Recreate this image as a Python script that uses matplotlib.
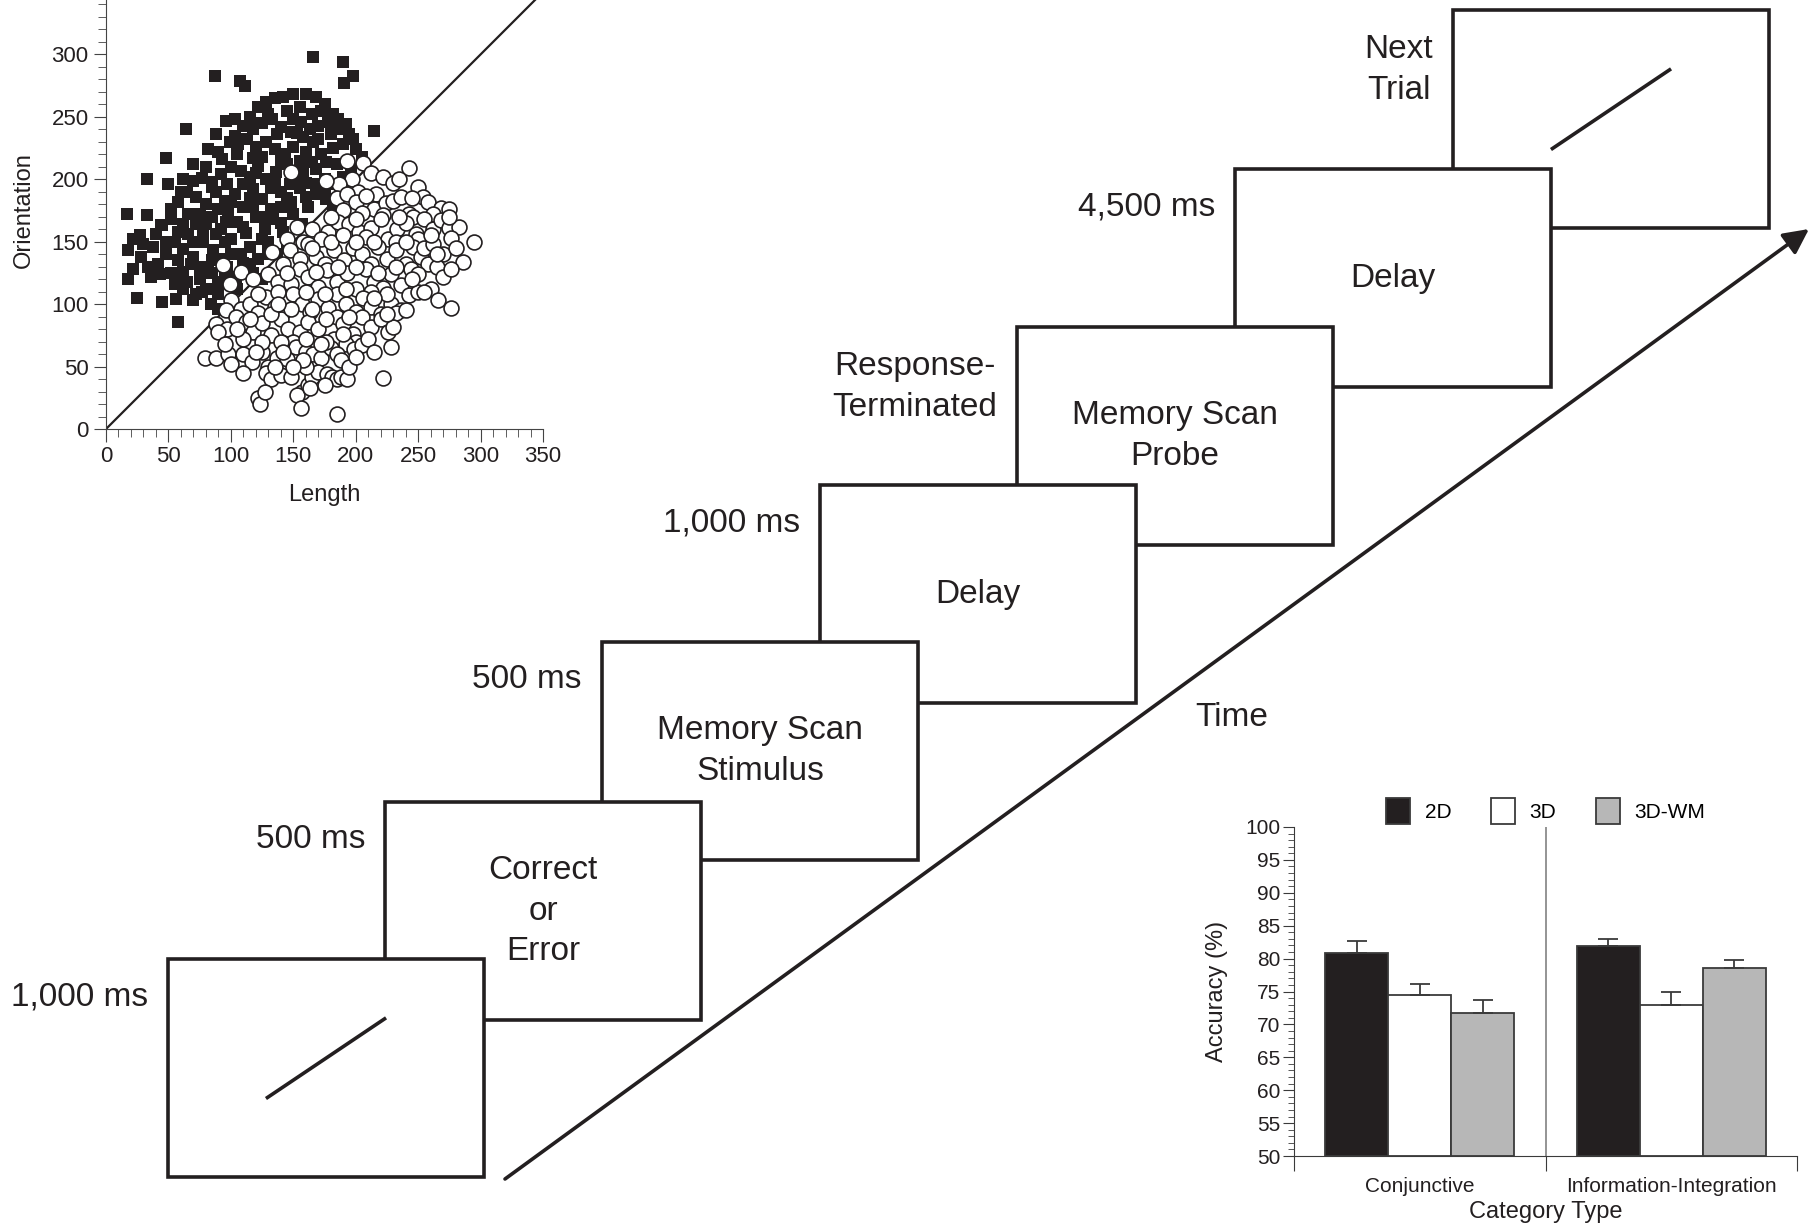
import numpy as np
import matplotlib
matplotlib.use("Agg")
import matplotlib.pyplot as plt
from matplotlib.patches import Rectangle, Patch
from matplotlib.ticker import MultipleLocator, FixedLocator

plt.rcParams['font.family'] = ['Liberation Sans', 'DejaVu Sans']
INK = '#231f20'

# ---- trial procedure (diagram) ----
durations = ["1,000 ms", "500 ms", "500 ms", "1,000 ms",
             "Response-\nTerminated", "4,500 ms", "Next\nTrial"]
stages = ["", "Correct\nor\nError", "Memory Scan\nStimulus", "Delay",
          "Memory Scan\nProbe", "Delay", ""]
has_stimulus = [True, False, False, False, False, False, True]
time_label = "Time"

# ---- inset: category structure (length, orientation) ----
cat_a = np.array([
    (166, 298), (190, 294), (198, 283), (191, 277), (87, 283), (107, 279), (111, 275), (215, 239), (64, 240),
    (122, 258), (128, 262), (135, 265), (142, 266), (150, 268), (160, 268), (168, 266), (175, 260), (182, 252),
    (130, 252), (145, 255), (155, 258), (172, 255),
    (96, 247), (103, 248), (110, 243), (118, 240), (125, 245), (133, 248), (140, 242), (148, 238), (156, 246),
    (163, 240), (170, 243), (178, 246), (186, 248), (192, 244), (137, 236), (158, 234), (180, 236), (198, 232),
    (82, 224), (90, 222), (99, 230), (106, 228), (113, 232), (120, 226), (128, 230), (135, 224), (143, 220),
    (150, 226), (160, 222), (166, 230), (172, 220), (182, 225), (190, 228), (200, 224), (205, 218), (118, 217),
    (140, 215), (176, 214), (93, 216), (48, 217),
    (62, 200), (70, 199), (77, 201), (85, 198), (92, 204), (100, 210), (108, 207), (115, 202), (122, 211),
    (128, 200), (136, 206), (145, 212), (152, 203), (160, 197), (168, 208), (175, 200), (183, 196), (190, 202),
    (196, 208), (50, 196), (33, 200),
    (52, 176), (58, 182), (65, 190), (72, 186), (80, 180), (88, 190), (95, 183), (103, 188), (110, 178),
    (118, 192), (125, 184), (132, 176), (140, 190), (148, 182), (155, 193), (162, 178), (168, 188), (176, 184),
    (182, 178), (85, 194),
    (45, 163), (52, 168), (58, 158), (66, 172), (72, 164), (78, 156), (85, 170), (92, 160), (98, 174),
    (105, 166), (112, 157), (120, 170), (127, 160), (134, 168), (142, 158), (150, 172), (157, 164), (17, 172),
    (33, 171), (44, 163),
    (22, 152), (30, 148), (38, 146), (48, 140), (55, 150), (62, 144), (70, 138), (78, 150), (86, 143),
    (93, 136), (100, 152), (108, 140), (115, 146), (122, 136), (130, 150), (137, 140), (145, 148), (18, 143),
    (27, 155),
    (18, 120), (22, 128), (34, 130), (36, 122), (43, 124), (55, 116), (62, 126), (68, 132), (75, 120),
    (82, 128), (90, 118), (97, 130), (104, 122), (110, 133), (118, 125), (125, 120), (142, 118),
    (25, 105), (45, 102), (62, 112), (70, 103), (77, 110), (84, 100), (90, 108), (90, 96), (58, 86),
    (88, 236), (115, 250), (150, 248), (165, 252), (185, 240), (195, 236), (105, 220), (125, 218), (155, 215),
    (165, 214), (185, 212), (80, 210), (70, 212), (110, 196), (132, 193), (147, 196), (170, 196), (60, 190),
    (75, 172), (90, 176), (100, 182), (115, 185), (140, 178), (160, 186), (175, 192), (62, 164), (80, 164),
    (95, 150), (110, 162), (125, 152), (140, 165), (48, 150), (40, 156), (58, 135), (75, 130), (85, 135),
    (100, 140), (115, 132), (130, 140), (65, 118), (80, 112), (95, 122), (105, 112), (28, 138), (42, 132),
    (52, 125), (70, 150), (88, 156), (130, 170), (145, 185), (120, 205), (97, 196), (103, 235), (153, 237),
    (170, 232), (72, 108), (56, 104), (85, 125), (66, 156), (96, 166), (118, 178), (135, 198), (158, 205),
])
cat_b = np.array([
    (193, 215), (206, 213), (197, 200), (212, 205), (222, 202), (230, 197), (243, 209), (202, 190), (187, 196),
    (176, 199), (148, 206), (216, 188),
    (185, 185), (193, 188), (200, 182), (208, 187), (215, 176), (224, 181), (230, 183), (236, 186), (250, 194),
    (254, 186), (258, 182), (268, 177), (275, 176), (190, 175), (205, 173), (222, 171), (243, 172), (262, 172),
    (246, 170),
    (153, 162), (165, 160), (178, 158), (186, 166), (195, 164), (203, 158), (212, 161), (220, 168), (226, 152),
    (233, 160), (240, 165), (248, 156), (255, 168), (262, 160), (268, 167), (275, 161), (283, 162), (250, 152),
    (232, 150), (208, 154), (158, 150), (172, 152), (145, 152), (276, 153),
    (133, 142), (142, 132), (147, 143), (155, 136), (162, 148), (168, 138), (175, 132), (183, 143), (191, 135),
    (198, 145), (205, 140), (212, 132), (218, 146), (225, 136), (232, 143), (240, 132), (246, 146), (252, 138),
    (258, 132), (270, 140), (286, 134), (295, 150), (265, 130),
    (94, 131), (108, 126), (130, 124), (138, 118), (148, 116), (155, 128), (162, 122), (170, 114), (177, 127),
    (185, 118), (193, 125), (200, 112), (208, 128), (215, 118), (222, 113), (228, 124), (236, 115), (244, 128),
    (250, 124), (260, 112), (270, 122), (276, 128), (99, 116), (118, 120), (212, 110),
    (100, 103), (108, 96), (115, 100), (122, 93), (128, 106), (135, 98), (142, 94), (150, 108), (157, 100),
    (163, 94), (170, 104), (178, 97), (185, 108), (192, 100), (200, 94), (206, 105), (212, 98), (220, 92),
    (228, 100), (236, 95), (243, 107), (266, 103), (276, 97), (96, 95), (185, 90), (232, 93),
    (88, 84), (97, 80), (104, 90), (112, 86), (118, 78), (125, 85), (132, 75), (140, 88), (146, 80),
    (155, 78), (162, 86), (170, 80), (176, 88), (183, 72), (190, 84), (198, 76), (205, 90), (212, 82),
    (220, 88), (226, 78), (230, 82), (90, 78), (150, 70), (200, 70),
    (79, 57), (88, 57), (98, 60), (100, 52), (110, 60), (117, 54), (125, 62), (130, 50), (137, 57),
    (145, 56), (152, 66), (160, 62), (166, 60), (172, 57), (180, 65), (192, 68), (199, 64), (205, 67),
    (228, 66), (140, 70), (176, 70), (185, 60),
    (128, 45), (132, 40), (140, 43), (148, 42), (157, 30), (162, 35), (165, 42), (170, 46), (177, 44),
    (181, 42), (185, 40), (188, 42), (193, 40), (222, 41), (135, 50), (160, 50),
    (122, 25), (123, 20), (127, 30), (153, 27), (156, 17), (163, 33), (185, 12),
    (180, 150), (190, 155), (200, 150), (215, 150), (235, 170), (255, 145), (262, 148), (240, 150), (200, 130),
    (218, 125), (232, 130), (186, 130), (168, 126), (145, 125), (122, 108), (138, 110), (160, 110), (175, 108),
    (192, 112), (225, 108), (250, 110), (115, 88), (132, 92), (148, 96), (165, 96), (195, 90), (215, 105),
    (240, 95), (110, 72), (125, 70), (160, 72), (172, 68), (190, 76), (210, 72), (215, 62), (120, 62),
    (142, 62), (158, 55), (188, 55), (195, 50), (110, 45), (150, 50), (175, 35), (200, 58), (225, 92),
    (255, 110), (265, 140), (280, 145), (245, 120), (200, 168), (180, 170), (165, 145), (138, 100), (105, 80),
    (95, 68), (260, 155), (275, 170), (245, 185), (235, 200),
])

# ---- inset: accuracy by category type ----
category_types = ["Conjunctive", "Information-Integration"]
conditions = ["2D", "3D", "3D-WM"]
acc_2d = [80.8, 81.9]
acc_3d = [74.5, 73.0]
acc_wm = [71.8, 78.6]
se_2d = [1.9, 1.05]
se_3d = [1.7, 2.0]
se_wm = [1.85, 1.25]

W, H = 1812, 1226
fig = plt.figure(figsize=(W / 100, H / 100), dpi=100)

# main canvas in pixel units
ax = fig.add_axes([0, 0, 1, 1])
ax.set_xlim(0, W)
ax.set_ylim(H, 0)
ax.axis('off')

box_w, box_h = 316, 218
box_xy = [(168, 959), (385, 802), (602, 642), (820, 485),
          (1017, 327), (1235, 169), (1453, 10)]
for i, (bx, by) in enumerate(box_xy):
    z = 20 - i
    ax.add_patch(Rectangle((bx, by), box_w, box_h, facecolor='white',
                           edgecolor=INK, lw=2.6, zorder=z))
    if has_stimulus[i]:
        ax.plot([bx + 0.31 * box_w, bx + 0.69 * box_w],
                [by + 0.64 * box_h, by + 0.27 * box_h],
                color=INK, lw=2.6, zorder=z, solid_capstyle='butt')
    if stages[i]:
        ax.text(bx + box_w / 2, by + box_h / 2, stages[i], ha='center',
                va='center', fontsize=24, color=INK, linespacing=1.4,
                zorder=30)
    nl = durations[i].count('\n')
    ax.text(bx - 20, by + 38 + nl * 22, durations[i], ha='right',
            va='center', multialignment='center', fontsize=24, color=INK,
            linespacing=1.4, zorder=30)

ax.annotate('', xy=(1809, 229), xytext=(505, 1179),
            arrowprops=dict(arrowstyle='-|>', lw=2.6, color=INK,
                            mutation_scale=38, shrinkA=0, shrinkB=0))
ax.text(1232, 718, time_label, ha='center', va='center', fontsize=24, color=INK)

# scatter inset
sax = fig.add_axes([106 / W, 1 - 429 / H, 437 / W, 437 / H])
sax.set_facecolor('none')
sax.plot([0, 350], [0, 350], color=INK, lw=1.6, zorder=1)
sax.scatter(cat_a[:, 0], cat_a[:, 1], marker='s', s=85, c=INK, lw=0, zorder=2)
sax.scatter(cat_b[:, 0], cat_b[:, 1], marker='o', s=115, facecolors='white',
            edgecolors=INK, lw=1.2, zorder=3)
sax.set_xlim(0, 350)
sax.set_ylim(0, 350)
for sp in ['top', 'right']:
    sax.spines[sp].set_visible(False)
for sp in ['left', 'bottom']:
    sax.spines[sp].set_color('#444444')
sax.xaxis.set_major_locator(MultipleLocator(50))
sax.yaxis.set_major_locator(MultipleLocator(50))
sax.xaxis.set_minor_locator(MultipleLocator(10))
sax.yaxis.set_minor_locator(MultipleLocator(10))
sax.tick_params(which='major', direction='out', length=9, color='#444444',
                labelsize=16, labelcolor=INK)
sax.tick_params(which='minor', direction='out', length=6, color='#444444')
sax.set_xlabel('Length', fontsize=17, color=INK, labelpad=12)
sax.set_ylabel('Orientation', fontsize=17, color=INK, labelpad=12)

# bar inset
bax = fig.add_axes([1294 / W, 1 - 1156 / H, 503 / W, 329 / H])
bw = 0.25
offsets = [0.25, 0.5, 0.75]
fills = [INK, 'white', '#b7b7b7']
series = [(acc_2d, se_2d), (acc_3d, se_3d), (acc_wm, se_wm)]
xg = np.arange(len(category_types))
for (vals, errs), off, fc, lab in zip(series, offsets, fills, conditions):
    bax.bar(xg + off, np.array(vals) - 50, bw, bottom=50, color=fc,
            edgecolor='#3a3a3a', lw=1.3, label=lab, zorder=2,
            yerr=[np.zeros(len(errs)), errs],
            error_kw=dict(ecolor='#3a3a3a', elinewidth=1.3, capsize=7, capthick=1.3))
bax.axvline(1, color='#777777', lw=1.1, zorder=1)
bax.set_xlim(0, 2)
bax.set_ylim(50, 100)
for sp in ['top', 'right']:
    bax.spines[sp].set_visible(False)
for sp in ['left', 'bottom']:
    bax.spines[sp].set_color('#3a3a3a')
bax.yaxis.set_major_locator(MultipleLocator(5))
bax.yaxis.set_minor_locator(MultipleLocator(1))
bax.tick_params(axis='y', which='major', direction='out', length=8,
                labelsize=15, labelcolor=INK, color='#3a3a3a', pad=2)
bax.tick_params(axis='y', which='minor', direction='out', length=4, color='#3a3a3a')
bax.xaxis.set_major_locator(FixedLocator([0, 1, 2]))
bax.xaxis.set_minor_locator(FixedLocator(xg + 0.5))
bax.set_xticklabels([])
bax.set_xticklabels(category_types, minor=True)
bax.tick_params(axis='x', which='major', direction='out', length=11, color='#3a3a3a')
bax.tick_params(axis='x', which='minor', length=0, pad=15, labelsize=15, labelcolor=INK)
bax.set_xlabel('Category Type', fontsize=17, color=INK, labelpad=4)
bax.set_ylabel('Accuracy (%)', fontsize=17, color=INK, labelpad=12)
handles = [Patch(facecolor=fc, edgecolor='#3a3a3a', lw=1.3) for fc in fills]
bax.legend(handles, conditions, loc='lower center', bbox_to_anchor=(0.5, 0.985),
           ncol=3, frameon=False, fontsize=15, handlelength=1.15, handleheight=1.5,
           columnspacing=1.9, handletextpad=0.7, borderaxespad=0.0)

fig.savefig('out.png', dpi=100, facecolor='white')
